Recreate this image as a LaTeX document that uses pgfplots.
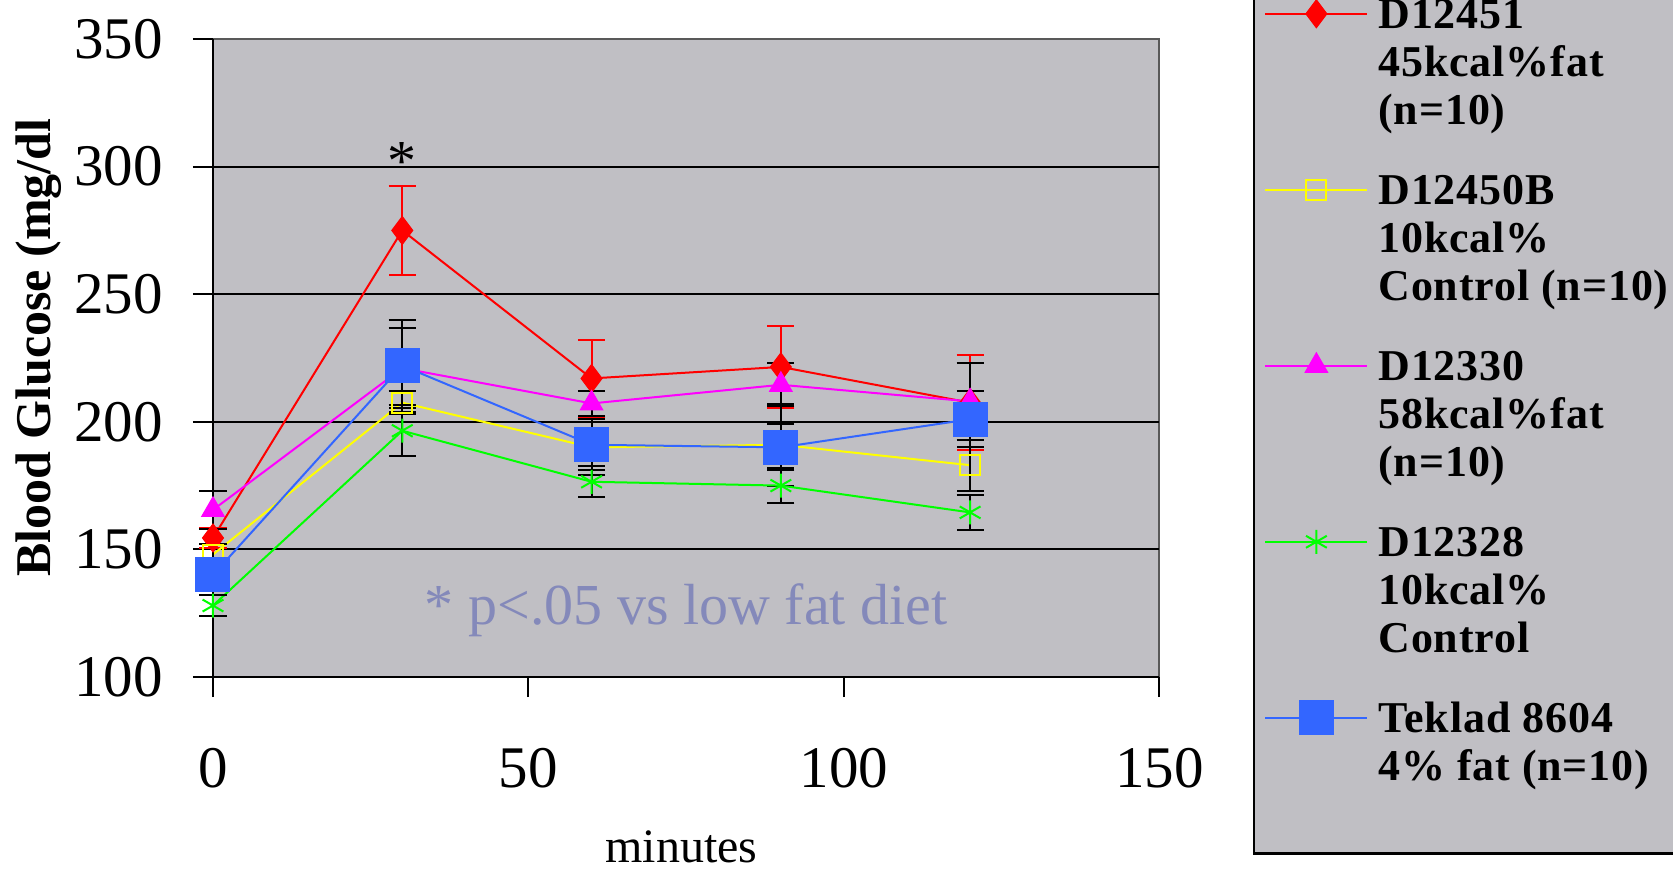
\documentclass[border=0pt]{standalone}
\usepackage{pgfplots}
\pgfplotsset{compat=1.18}
\usepackage{pgfplotstable}
\usepackage{fontspec}
\setmainfont{Liberation Serif}
\newfontfamily\legfont[LetterSpace=2]{Liberation Serif}
\definecolor{bgray}{RGB}{192,191,196}
\definecolor{myblue}{RGB}{51,102,255}
\definecolor{annot}{RGB}{132,137,186}
\definecolor{myred}{RGB}{255,0,0}
\definecolor{myyellow}{RGB}{255,255,0}
\definecolor{mymag}{RGB}{255,0,255}
\definecolor{mygreen}{RGB}{0,255,0}

\pgfplotstableread{
x y e
0 154.5 4
30 275 17.5
60 217 15
90 221.5 16
120 207.5 18.5
}\tblred
\pgfplotstableread{
x y e
0 148 4
30 207.5 4.5
60 190 11
90 191 16
120 183 10
}\tblyel
\pgfplotstableread{
x y e
0 165.5 7.4
30 221 15.6
60 207.2 5
90 214.5 8.5
120 208 15
}\tblmag
\pgfplotstableread{
x y e
0 128 4
30 196.5 10
60 176.5 6
90 175 7
120 164.5 7
}\tblgrn
\pgfplotstableread{
x y e
0 140 4
30 222 18
60 191 10
90 190 9
120 201 11
}\tblblu

\begin{document}
\begin{tikzpicture}
\draw[fill=bgray, draw=black, line width=1.2pt] (520.4pt,-88.3pt) rectangle (731pt,360pt);
\begin{axis}[
  at={(0pt,0pt)}, anchor=south west,
  scale only axis, width=473.2pt, height=319pt,
  xmin=0, xmax=150, ymin=100, ymax=350,
  xtick={0,50,100,150}, ytick={100,150,200,250,300,350},
  axis x line*=bottom, axis y line*=left,
  axis line style={black, line width=1pt},
  axis background/.style={fill=bgray, draw=gray!70!black, line width=1pt},
  tick align=outside, major tick length=10pt,
  every tick/.style={black, line width=1pt},
  extra y ticks={150,200,250,300}, extra y tick labels={},
  extra y tick style={grid=major, major tick length=0pt},
  grid style={black, line width=1pt},
  ticklabel style={font=\fontsize{29.5}{32}\selectfont},
  /pgf/number format/assume math mode=true,
  yticklabel style={xshift=-11.5pt},
  xticklabel style={yshift=-22pt},
  xlabel={minutes},
  xlabel style={font=\fontsize{24}{26}\selectfont, at={(axis description cs:0.495,-0.266)}, anchor=center},
  ylabel={Blood Glucose (mg/dl},
  ylabel style={font=\fontsize{25}{27}\selectfont\bfseries, at={(axis description cs:-0.184,0.516)}, anchor=center},
  clip=false,
  legend style={at={(rel axis cs:1.1105,1.0693)}, anchor=north west, draw=none, fill=none,
    font=\legfont\bfseries\fontsize{22}{24}\selectfont,
    cells={anchor=base west}, nodes={inner sep=0pt},
    column sep=5pt, row sep=69.7pt, inner sep=0pt},
  legend image code/.code={\draw[#1, mark repeat=2, mark phase=2] plot coordinates {(0pt,7.5pt) (25.5pt,7.5pt) (51pt,7.5pt)};},
  every axis plot/.append style={line width=1pt},
  error bars/y dir=both, error bars/y explicit,
]
\addplot[myred, mark=diamond*, mark size=7pt, mark options={fill=myred, line width=0.5pt},
  error bars/error bar style={myred, line width=1pt},
  error bars/error mark options={rotate=90, mark size=6.8pt, myred, line width=1pt}]
  table[x=x, y=y, y error=e] {\tblred};
\addlegendentry{\begin{tabular}[t]{@{}l@{}}D12451\\45kcal\%fat\\(n=10)\end{tabular}}
\addplot[myyellow, mark=square, mark size=5pt, mark options={line width=1pt},
  error bars/error bar style={black, line width=1pt},
  error bars/error mark options={rotate=90, mark size=6.8pt, black, line width=1pt}]
  table[x=x, y=y, y error=e] {\tblyel};
\addlegendentry{\begin{tabular}[t]{@{}l@{}}D12450B\\10kcal\%\\Control (n=10)\end{tabular}}
\addplot[mymag, mark=triangle*, mark size=6.5pt, mark options={fill=mymag, line width=0.5pt},
  error bars/error bar style={black, line width=1pt},
  error bars/error mark options={rotate=90, mark size=6.8pt, black, line width=1pt}]
  table[x=x, y=y, y error=e] {\tblmag};
\addlegendentry{\begin{tabular}[t]{@{}l@{}}D12330\\58kcal\%fat\\(n=10)\end{tabular}}
\addplot[mygreen, mark=asterisk, mark size=6pt, mark options={line width=1pt},
  error bars/error bar style={black, line width=1pt},
  error bars/error mark options={rotate=90, mark size=6.8pt, black, line width=1pt}]
  table[x=x, y=y, y error=e] {\tblgrn};
\addlegendentry{\begin{tabular}[t]{@{}l@{}}D12328\\10kcal\%\\Control\end{tabular}}
\addplot[myblue, mark=square*, mark size=8.5pt, mark options={fill=myblue, line width=0.5pt},
  error bars/error bar style={black, line width=1pt},
  error bars/error mark options={rotate=90, mark size=6.8pt, black, line width=1pt}]
  table[x=x, y=y, y error=e] {\tblblu};
\addlegendentry{\begin{tabular}[t]{@{}l@{}}Teklad 8604\\4\% fat (n=10)\end{tabular}}
\node[font=\fontsize{29}{32}\selectfont, text=annot] at (axis cs:75,126) {* p<.05 vs low fat diet};
\node[font=\fontsize{29}{32}\selectfont, anchor=center] at (axis cs:30,302) {*};
\end{axis}
\pgfresetboundingbox
\path[use as bounding box] (-106.5pt,-96pt) rectangle (730pt,338.5pt);
\end{tikzpicture}
\end{document}
